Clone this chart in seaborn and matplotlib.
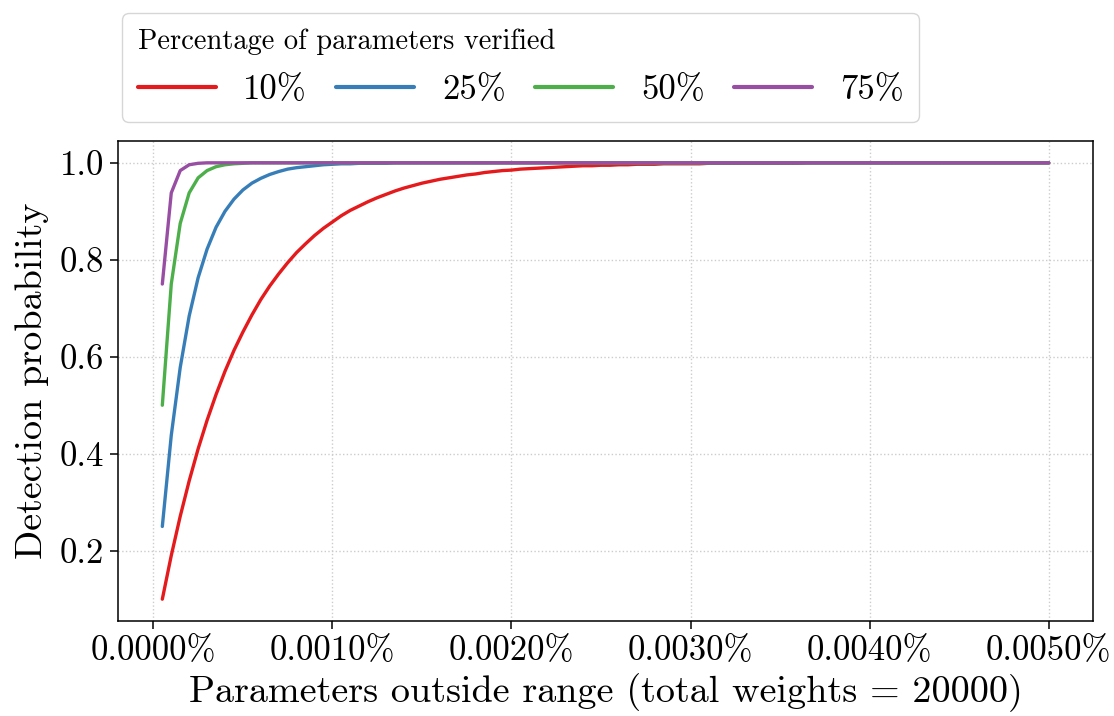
import matplotlib
matplotlib.use("Agg")
import matplotlib.pyplot as plt
import matplotlib.ticker as mticker
import seaborn as sns
import pandas as pd

# ---------------- data ----------------
outside_count = [
    1, 2, 3, 4, 5, 6, 7, 8, 9, 10,
    11, 12, 13, 14, 15, 16, 17, 18, 19, 20,
    21, 22, 23, 24, 25, 26, 27, 28, 29, 30,
    31, 32, 33, 34, 35, 36, 37, 38, 39, 40,
    41, 42, 43, 44, 45, 46, 47, 48, 49, 50,
    51, 52, 53, 54, 55, 56, 57, 58, 59, 60,
    61, 62, 63, 64, 65, 66, 67, 68, 69, 70,
    71, 72, 73, 74, 75, 76, 77, 78, 79, 80,
    81, 82, 83, 84, 85, 86, 87, 88, 89, 90,
    91, 92, 93, 94, 95, 96, 97, 98, 99, 100,
]
pct_per_count = 0.00005  # x axis is in percent

series_labels = ["10%", "25%", "50%", "75%"]

prob_10 = [
    0.100, 0.190, 0.271, 0.344, 0.410, 0.469, 0.522, 0.570, 0.613, 0.651,
    0.686, 0.718, 0.746, 0.771, 0.794, 0.815, 0.833, 0.850, 0.865, 0.878,
    0.891, 0.902, 0.911, 0.920, 0.928, 0.935, 0.942, 0.948, 0.953, 0.958,
    0.962, 0.966, 0.969, 0.972, 0.975, 0.977, 0.980, 0.982, 0.984, 0.985,
    0.987, 0.988, 0.989, 0.990, 0.991, 0.992, 0.993, 0.994, 0.994, 0.995,
    0.995, 0.996, 0.996, 0.997, 0.997, 0.997, 0.998, 0.998, 0.998, 0.998,
    0.998, 0.999, 0.999, 0.999, 0.999, 0.999, 0.999, 0.999, 0.999, 0.999,
    0.999, 0.999, 1.000, 1.000, 1.000, 1.000, 1.000, 1.000, 1.000, 1.000,
    1.000, 1.000, 1.000, 1.000, 1.000, 1.000, 1.000, 1.000, 1.000, 1.000,
    1.000, 1.000, 1.000, 1.000, 1.000, 1.000, 1.000, 1.000, 1.000, 1.000,
]
prob_25 = [
    0.250, 0.438, 0.578, 0.684, 0.763, 0.822, 0.867, 0.900, 0.925, 0.944,
    0.958, 0.968, 0.976, 0.982, 0.987, 0.990, 0.992, 0.994, 0.996, 0.997,
    0.998, 0.998, 0.999, 0.999, 0.999, 0.999, 1.000, 1.000, 1.000, 1.000,
    1.000, 1.000, 1.000, 1.000, 1.000, 1.000, 1.000, 1.000, 1.000, 1.000,
    1.000, 1.000, 1.000, 1.000, 1.000, 1.000, 1.000, 1.000, 1.000, 1.000,
    1.000, 1.000, 1.000, 1.000, 1.000, 1.000, 1.000, 1.000, 1.000, 1.000,
    1.000, 1.000, 1.000, 1.000, 1.000, 1.000, 1.000, 1.000, 1.000, 1.000,
    1.000, 1.000, 1.000, 1.000, 1.000, 1.000, 1.000, 1.000, 1.000, 1.000,
    1.000, 1.000, 1.000, 1.000, 1.000, 1.000, 1.000, 1.000, 1.000, 1.000,
    1.000, 1.000, 1.000, 1.000, 1.000, 1.000, 1.000, 1.000, 1.000, 1.000,
]
prob_50 = [
    0.500, 0.750, 0.875, 0.938, 0.969, 0.984, 0.992, 0.996, 0.998, 0.999,
    1.000, 1.000, 1.000, 1.000, 1.000, 1.000, 1.000, 1.000, 1.000, 1.000,
    1.000, 1.000, 1.000, 1.000, 1.000, 1.000, 1.000, 1.000, 1.000, 1.000,
    1.000, 1.000, 1.000, 1.000, 1.000, 1.000, 1.000, 1.000, 1.000, 1.000,
    1.000, 1.000, 1.000, 1.000, 1.000, 1.000, 1.000, 1.000, 1.000, 1.000,
    1.000, 1.000, 1.000, 1.000, 1.000, 1.000, 1.000, 1.000, 1.000, 1.000,
    1.000, 1.000, 1.000, 1.000, 1.000, 1.000, 1.000, 1.000, 1.000, 1.000,
    1.000, 1.000, 1.000, 1.000, 1.000, 1.000, 1.000, 1.000, 1.000, 1.000,
    1.000, 1.000, 1.000, 1.000, 1.000, 1.000, 1.000, 1.000, 1.000, 1.000,
    1.000, 1.000, 1.000, 1.000, 1.000, 1.000, 1.000, 1.000, 1.000, 1.000,
]
prob_75 = [
    0.750, 0.938, 0.984, 0.996, 0.999, 1.000, 1.000, 1.000, 1.000, 1.000,
    1.000, 1.000, 1.000, 1.000, 1.000, 1.000, 1.000, 1.000, 1.000, 1.000,
    1.000, 1.000, 1.000, 1.000, 1.000, 1.000, 1.000, 1.000, 1.000, 1.000,
    1.000, 1.000, 1.000, 1.000, 1.000, 1.000, 1.000, 1.000, 1.000, 1.000,
    1.000, 1.000, 1.000, 1.000, 1.000, 1.000, 1.000, 1.000, 1.000, 1.000,
    1.000, 1.000, 1.000, 1.000, 1.000, 1.000, 1.000, 1.000, 1.000, 1.000,
    1.000, 1.000, 1.000, 1.000, 1.000, 1.000, 1.000, 1.000, 1.000, 1.000,
    1.000, 1.000, 1.000, 1.000, 1.000, 1.000, 1.000, 1.000, 1.000, 1.000,
    1.000, 1.000, 1.000, 1.000, 1.000, 1.000, 1.000, 1.000, 1.000, 1.000,
    1.000, 1.000, 1.000, 1.000, 1.000, 1.000, 1.000, 1.000, 1.000, 1.000,
]

x_ticks = [0.0, 0.001, 0.002, 0.003, 0.004, 0.005]
y_ticks = [0.2, 0.4, 0.6, 0.8, 1.0]

# ---------------- build frame ----------------
rows = []
for label, vals in zip(series_labels, [prob_10, prob_25, prob_50, prob_75]):
    for c, v in zip(outside_count, vals):
        rows.append({"x": c * pct_per_count, "p": v, "verified": label})
df = pd.DataFrame(rows)

# ---------------- style ----------------
sns.set_theme(style="ticks")
plt.rcParams.update({
    "font.family": "serif",
    "font.serif": ["cmr10"],
    "mathtext.fontset": "cm",
    "axes.formatter.use_mathtext": True,
    "axes.unicode_minus": False,
    "axes.edgecolor": "black",
    "axes.linewidth": 1.1,
    "xtick.color": "black",
    "ytick.color": "black",
    "text.color": "black",
    "axes.labelcolor": "black",
})

palette = ["#e41a1c", "#377eb8", "#4daf4a", "#984ea3"]

fig = plt.figure(figsize=(11.14, 7.16), dpi=100)
ax = fig.add_axes([118 / 1114, 1 - 621 / 716, 975 / 1114, 480 / 716])

sns.lineplot(data=df, x="x", y="p", hue="verified", hue_order=series_labels,
             palette=palette, linewidth=2.4, ax=ax, legend=True)

ax.set_xticks(x_ticks)
ax.set_yticks(y_ticks)
ax.xaxis.set_major_formatter(mticker.FuncFormatter(lambda v, pos: f"{v:.4f}%"))
ax.yaxis.set_major_formatter(mticker.FuncFormatter(lambda v, pos: f"{v:.1f}"))
ax.tick_params(axis="both", labelsize=25, length=6, width=1.1, direction="out", pad=4)
ax.grid(True, linestyle=":", color="#cccccc", linewidth=1.0)
for s in ax.spines.values():
    s.set_visible(True)
    s.set_color("black")

ax.set_xlabel("Parameters outside range (total weights = 20000)", fontsize=27.5, labelpad=5)
ax.set_ylabel("Detection probability", fontsize=27.5, labelpad=8)

handles, labels = ax.get_legend_handles_labels()
for h in handles:
    h.set_linewidth(3)
leg = ax.legend(handles, labels, title="Percentage of parameters verified",
                loc="lower left", bbox_to_anchor=(0.004, 1.04), borderaxespad=0,
                ncol=4, fontsize=25, title_fontsize=20.5, handlelength=2.25,
                handletextpad=0.8, columnspacing=0.84, frameon=True,
                borderpad=0.45, labelspacing=0.55, fancybox=True,
                edgecolor="#cccccc", framealpha=0.8, alignment="left")

fig.savefig("out.png", dpi=100)
